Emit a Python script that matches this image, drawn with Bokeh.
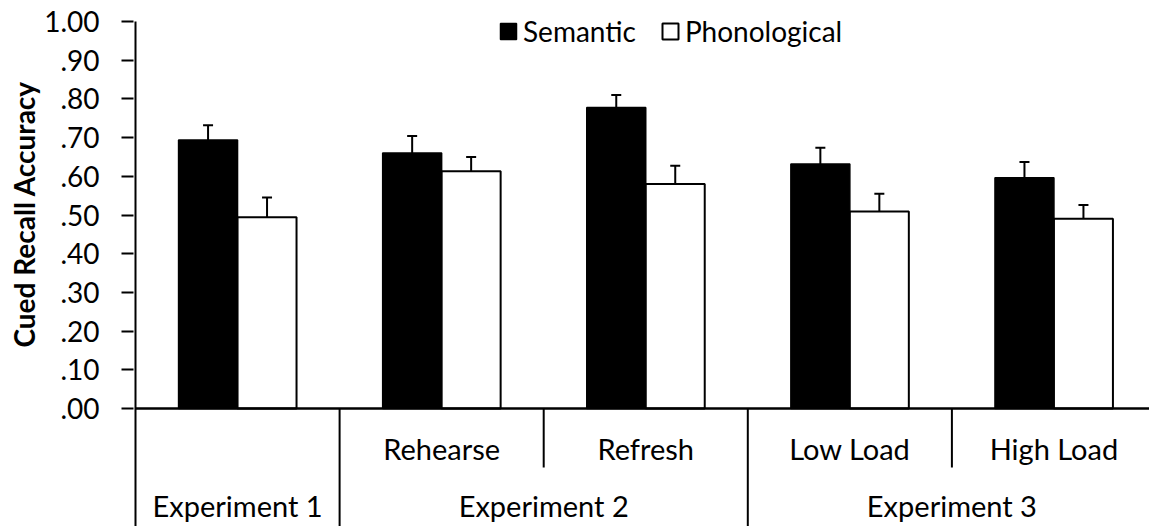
from bokeh.plotting import figure
from bokeh.models import (ColumnDataSource, Range1d, FixedTicker, Span, Whisker,
                          TeeHead, Legend, LegendItem, Title)
from bokeh.core.properties import value
from bokeh.embed import file_html
from bokeh.resources import INLINE

# ---------------- data ----------------
conditions = ["", "Rehearse", "Refresh", "Low Load", "High Load"]
experiments = ["Experiment 1", "Experiment 2", "Experiment 3"]
experiment_groups = [[0], [1, 2], [3, 4]]          # condition indices per experiment
semantic = [0.694, 0.660, 0.778, 0.632, 0.596]
semantic_err = [0.038, 0.044, 0.032, 0.042, 0.041]
phonological = [0.494, 0.613, 0.580, 0.509, 0.490]
phonological_err = [0.051, 0.037, 0.047, 0.046, 0.036]
y_ticks = [0.0, 0.1, 0.2, 0.3, 0.4, 0.5, 0.6, 0.7, 0.8, 0.9, 1.0]
y_tick_labels = [".00", ".10", ".20", ".30", ".40", ".50", ".60", ".70", ".80", ".90", "1.00"]
series_names = ["Semantic", "Phonological"]
y_title = "Cued Recall Accuracy"

FONT = "Lato"
FS = "29px"

n = len(conditions)
centers = [i + 0.5 for i in range(n)]
bw = 0.289
sem_x = [c - bw / 2 for c in centers]
pho_x = [c + bw / 2 for c in centers]

W, H = 1149, 526
left, top = 133, 4
x0_px, y1_px = 135.0, 21.0          # page position of x=0 and of y=1.00
px_per_unit_x = 204.1
px_per_unit_y = 387.0
x_start = -(x0_px - left) / px_per_unit_x
x_end = x_start + (W - left) / px_per_unit_x
y_end = 1.0 + (y1_px - top) / px_per_unit_y
y_start = y_end - (H - top) / px_per_unit_y

p = figure(width=W, height=H, output_backend="svg", toolbar_location=None,
           x_range=Range1d(x_start, x_end), y_range=Range1d(y_start, y_end),
           x_axis_location=None, min_border_left=left, min_border_right=0,
           min_border_top=top, min_border_bottom=0)
p.outline_line_color = None
p.grid.visible = False
p.background_fill_color = "white"
p.border_fill_color = "white"

yax = p.yaxis[0]
yax.ticker = FixedTicker(ticks=y_ticks)
yax.major_label_overrides = {t: s for t, s in zip(y_ticks, y_tick_labels)}
yax.minor_tick_line_color = None
yax.major_tick_in = 0
yax.major_tick_out = 12
yax.major_tick_line_width = 2
yax.major_tick_line_color = "black"
yax.axis_line_color = None
yax.major_label_standoff = 22
yax.major_label_text_font = FONT
yax.major_label_text_font_size = "28px"
yax.major_label_text_color = "black"

src = ColumnDataSource(dict(
    sem_x=sem_x, pho_x=pho_x, sem=semantic, pho=phonological,
    sem_up=[v + e for v, e in zip(semantic, semantic_err)],
    sem_lo=[v - e for v, e in zip(semantic, semantic_err)],
    pho_up=[v + e for v, e in zip(phonological, phonological_err)],
    pho_lo=[v - e for v, e in zip(phonological, phonological_err)],
))

r_sem = p.vbar(x="sem_x", top="sem", width=bw, bottom=0, source=src,
               fill_color="black", line_color="black", line_width=1.5)
r_pho = p.vbar(x="pho_x", top="pho", width=bw, bottom=0, source=src,
               fill_color="white", line_color="black", line_width=2)

for xcol, up, lo in (("sem_x", "sem_up", "sem_lo"), ("pho_x", "pho_up", "pho_lo")):
    w = Whisker(base=xcol, upper=up, lower=lo, source=src, line_width=2, line_color="black",
                upper_head=TeeHead(size=10, line_width=2, line_color="black"),
                lower_head=TeeHead(size=10, line_width=2, line_color="black"))
    p.add_layout(w)

# value axis line (from 1.00 down through the category area)
p.segment(x0=[0], y0=[y_ticks[-1]], x1=[0], y1=[y_start], line_color="black", line_width=2)
# horizontal category axis line at zero
p.segment(x0=[0], y0=[0], x1=[x_end], y1=[0], line_color="black", line_width=2.5)

# separators: full between experiments, short within experiments
full_sep = [g[-1] + 1 for g in experiment_groups]
short_sep = [i for g in experiment_groups for i in g[1:]]
p.segment(x0=full_sep, y0=[0] * len(full_sep), x1=full_sep, y1=[y_start] * len(full_sep),
          line_color="black", line_width=2)
p.segment(x0=short_sep, y0=[0] * len(short_sep), x1=short_sep,
          y1=[-59 / px_per_unit_y] * len(short_sep), line_color="black", line_width=2)

# condition labels
cond_src = ColumnDataSource(dict(x=[c for c, t in zip(centers, conditions) if t],
                                 t=[t for t in conditions if t]))
p.text(x="x", y=-40 / px_per_unit_y, text="t", source=cond_src, text_align="center",
       text_baseline="middle", text_font=value(FONT), text_font_size=FS, text_color="black")
exp_src = ColumnDataSource(dict(x=[(g[0] + g[-1] + 1) / 2 for g in experiment_groups], t=experiments))
p.text(x="x", y=-97 / px_per_unit_y, text="t", source=exp_src, text_align="center",
       text_baseline="middle", text_font=value(FONT), text_font_size=FS, text_color="black")

# y axis title (left panel, positioned along the value part of the axis)
p.add_layout(Title(text=y_title, align="left", offset=179, text_font=FONT,
                   text_font_size="28px", text_font_style="bold", text_color="black",
                   vertical_align="middle", standoff=0), "left")

legend = Legend(items=[LegendItem(label=series_names[0], renderers=[r_sem]),
                       LegendItem(label=series_names[1], renderers=[r_pho])],
                orientation="horizontal", location=(365, 478),
                label_text_font=FONT, label_text_font_size="28px", label_text_color="black",
                glyph_width=20, glyph_height=20, label_standoff=5, spacing=24,
                padding=0, margin=0, border_line_color=None, background_fill_alpha=0)
p.add_layout(legend)

open("out.html", "w").write(file_html(p, INLINE))
